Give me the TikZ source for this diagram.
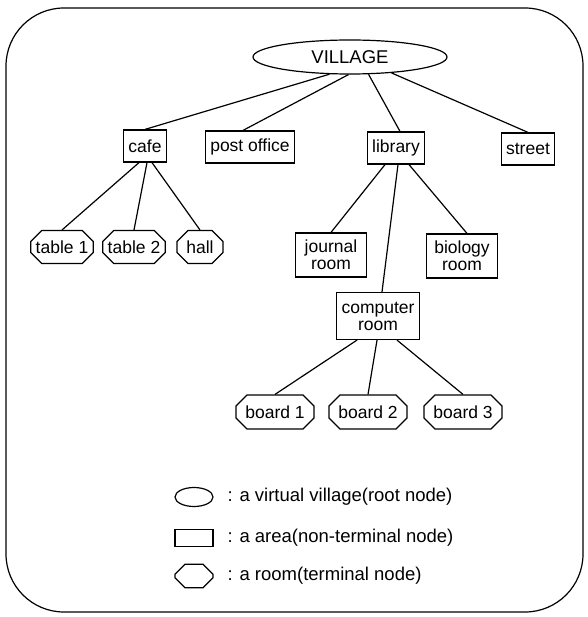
\documentclass[tikz,border=0pt]{standalone}
\usepackage{fontspec}
\setmainfont{Liberation Sans}
\usetikzlibrary{shapes.geometric,shapes.misc,positioning,calc}

\begin{document}
\begin{tikzpicture}[x=1pt,y=-1pt,line width=1.2pt,
  nodefont/.style={font=\fontsize{17.5}{17}\selectfont},
  rootnode/.style={draw, ellipse, inner sep=0pt, minimum width=194pt, minimum height=34pt, font=\fontsize{18.5}{18}\selectfont},
  areanode/.style={draw, rectangle, nodefont, align=center, inner xsep=5pt, inner ysep=3pt, minimum height=32pt},
  roomnode/.style={draw, chamfered rectangle, chamfered rectangle xsep=5pt, chamfered rectangle ysep=6pt, nodefont, inner xsep=0pt, inner ysep=4pt, minimum height=30pt},
  keytext/.style={font=\fontsize{18.5}{18}\selectfont, anchor=west}]
  \useasboundingbox (0,0) rectangle (587,617);
  % frame
  \draw[rounded corners=58pt] (6,8) rectangle (583,612);
  % Nodes
  \node[rootnode] (village) at (350,57) {VILLAGE};
  \node[areanode] (cafe) at (145,146) {cafe};
  \node[areanode] (post) at (250,147) {post office};
  \node[areanode] (library) at (396,148) {library};
  \node[areanode] (street) at (528,149) {street};
  \node[roomnode] (table1) at (62,247) {table 1};
  \node[roomnode] (table2) at (134,247) {table 2};
  \node[roomnode, minimum width=46pt] (hall) at (200,247) {hall};
  \node[areanode, minimum width=71pt, minimum height=44pt] (journal) at (331,255) {journal\\room};
  \node[areanode, minimum width=71pt, minimum height=44pt] (biology) at (462,256) {biology\\room};
  \node[areanode, minimum width=77pt, minimum height=47pt] (computer) at (378,316) {computer\\room};
  \node[roomnode, minimum width=78pt, minimum height=34pt] (board1) at (275,412) {board 1};
  \node[roomnode, minimum width=78pt, minimum height=34pt] (board2) at (368,412) {board 2};
  \node[roomnode, minimum width=78pt, minimum height=34pt] (board3) at (463,412) {board 3};
  % Edges
  \draw (village.220) -- (cafe.north);
  \draw (village.265) -- ($(post.north)+(-7,0)$);
  \draw (village.317) -- ($(library.north)+(4,0)$);
  \draw (village.339) -- (street.north);
  \draw ($(cafe.south)+(-6,0)$) -- (table1.north);
  \draw ($(cafe.south)+(2,0)$) -- (table2.north);
  \draw ($(cafe.south)+(7,0)$) -- (hall.north);
  \draw ($(library.south)+(-11,0)$) -- (journal.north);
  \draw ($(library.south)+(2,0)$) -- ($(computer.north)+(4,0)$);
  \draw ($(library.south)+(13,0)$) -- ($(biology.north)+(5,0)$);
  \draw ($(computer.south)+(-21,0)$) -- (board1.north);
  \draw ($(computer.south)+(-1,0)$) -- (board2.north);
  \draw ($(computer.south)+(19,0)$) -- (board3.north);
  % legend
  \node[draw, ellipse, inner sep=0pt, minimum width=38pt, minimum height=19pt] (keyroot) at (194,497) {};
  \node[draw, rectangle, inner sep=0pt, minimum width=38pt, minimum height=17pt] (keyarea) at (194,538) {};
  \node[roomnode, inner xsep=0pt, inner ysep=2pt, minimum width=38pt, minimum height=22pt, chamfered rectangle xsep=5pt, chamfered rectangle ysep=5pt] (keyroom) at (194,576) {\phantom{aa}};
  \node[keytext, right=10pt of keyroot] (keyroottext) {: a virtual village(root node)};
  \node[keytext, right=10pt of keyarea] (keyareatext) {: a area(non-terminal node)};
  \node[keytext, right=10pt of keyroom] (keyroomtext) {: a room(terminal node)};
\end{tikzpicture}
\end{document}
